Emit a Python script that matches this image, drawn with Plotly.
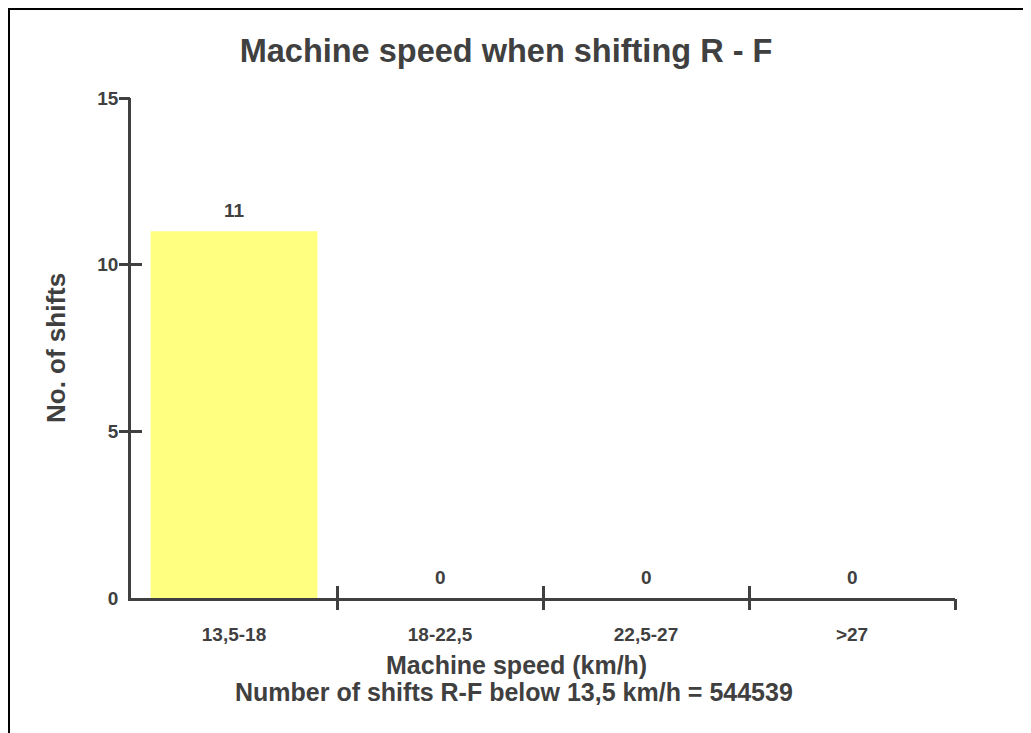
import plotly.graph_objects as go

categories = ["13,5-18", "18-22,5", "22,5-27", ">27"]
shifts = [11, 0, 0, 0]
y_ticks = [0, 5, 10, 15]
y_tick_marks = [5, 10, 15]
title_text = "Machine speed when shifting R - F"
y_title = "No. of shifts"
x_title_1 = "Machine speed (km/h)"
x_title_2 = "Number of shifts R-F below 13,5 km/h = 544539"

FONT = "Liberation Sans, Arial, sans-serif"
GRAY = "#404040"
OFF = 8  # page body margin
W, H = 1031, 733
# plot area in page pixels: x 131..955, y 98..598
L, T = 131 - OFF, 98 - OFF
R = W - (955 - OFF)
B = H - (598 - OFF)
pw, ph = W - L - R, H - T - B

def px_x(px):
    return (px - OFF - L) / pw

def px_y(py):
    return (H - B - (py - OFF)) / ph

n = len(categories)
boundaries = [i + 0.5 for i in range(n)]

fig = go.Figure()
fig.add_trace(go.Bar(
    x=categories, y=shifts, width=0.81,
    marker=dict(color="#FFFF80", line=dict(width=0)),
    showlegend=False, hoverinfo="skip",
))
# empty traces so the overlay axes (boundary tick marks) are drawn
fig.add_trace(go.Scatter(x=[], y=[], xaxis="x2", yaxis="y2", showlegend=False))
fig.add_trace(go.Scatter(x=[], y=[], xaxis="x3", yaxis="y3", showlegend=False))

value_labels = [
    dict(text=str(v), x=c, y=v, xref="x", yref="y", showarrow=False,
         xanchor="center", yanchor="bottom", yshift=8,
         font=dict(family=FONT, size=19, color=GRAY, weight="bold"))
    for c, v in zip(categories, shifts)
]

tick_font = dict(family=FONT, size=19, color=GRAY, weight="bold")
mark = dict(tickwidth=2.5, tickcolor=GRAY, showticklabels=False,
            showgrid=False, zeroline=False, showline=False)
fig.update_layout(
    width=W, height=H,
    margin=dict(l=L, r=R, t=T, b=B),
    paper_bgcolor="white", plot_bgcolor="white",
    title=dict(text=title_text, x=(506 - OFF) / W, xanchor="center",
               y=1 - (51 - OFF) / H, yanchor="middle", yref="container",
               font=dict(family=FONT, size=32.5, color=GRAY, weight="bold")),
    xaxis=dict(type="category", range=[-0.5, n - 0.5], showline=True,
               linecolor=GRAY, linewidth=2.5, ticks="", showgrid=False,
               zeroline=False, tickfont=tick_font, ticklabelstandoff=17),
    yaxis=dict(range=[0, 15], tickvals=y_ticks, showline=True,
               linecolor=GRAY, linewidth=2.5, ticks="", showgrid=False,
               zeroline=False, tickfont=tick_font, ticklabelstandoff=6),
    xaxis2=dict(overlaying="x", anchor="y2", range=[-0.5, n - 0.5],
                tickvals=boundaries, ticks="outside", ticklen=11, **mark),
    yaxis2=dict(overlaying="y", anchor="x2", range=[0, 15],
                tickvals=y_tick_marks, ticks="outside", ticklen=11, **mark),
    xaxis3=dict(overlaying="x", anchor="y3", range=[-0.5, n - 0.5],
                tickvals=boundaries, ticks="inside", ticklen=12, **mark),
    yaxis3=dict(overlaying="y", anchor="x3", range=[0, 15],
                tickvals=y_tick_marks, ticks="inside", ticklen=11, **mark),
    annotations=value_labels + [
        dict(text=y_title, xref="paper", yref="paper", x=px_x(56), y=px_y(348),
             textangle=-90, showarrow=False, xanchor="center", yanchor="middle",
             font=dict(family=FONT, size=26, color=GRAY, weight="bold")),
        dict(text=x_title_1, xref="paper", yref="paper", x=px_x(516), y=px_y(665),
             showarrow=False, xanchor="center", yanchor="middle",
             font=dict(family=FONT, size=25, color=GRAY, weight="bold")),
        dict(text=x_title_2, xref="paper", yref="paper", x=px_x(514), y=px_y(692),
             showarrow=False, xanchor="center", yanchor="middle",
             font=dict(family=FONT, size=25, color=GRAY, weight="bold")),
    ],
    shapes=[dict(type="rect", xref="paper", yref="paper",
                 x0=px_x(9), y0=-0.5, x1=1.3, y1=px_y(9),
                 line=dict(color="black", width=2), fillcolor="rgba(0,0,0,0)")],
)

fig.write_html("out.html")
